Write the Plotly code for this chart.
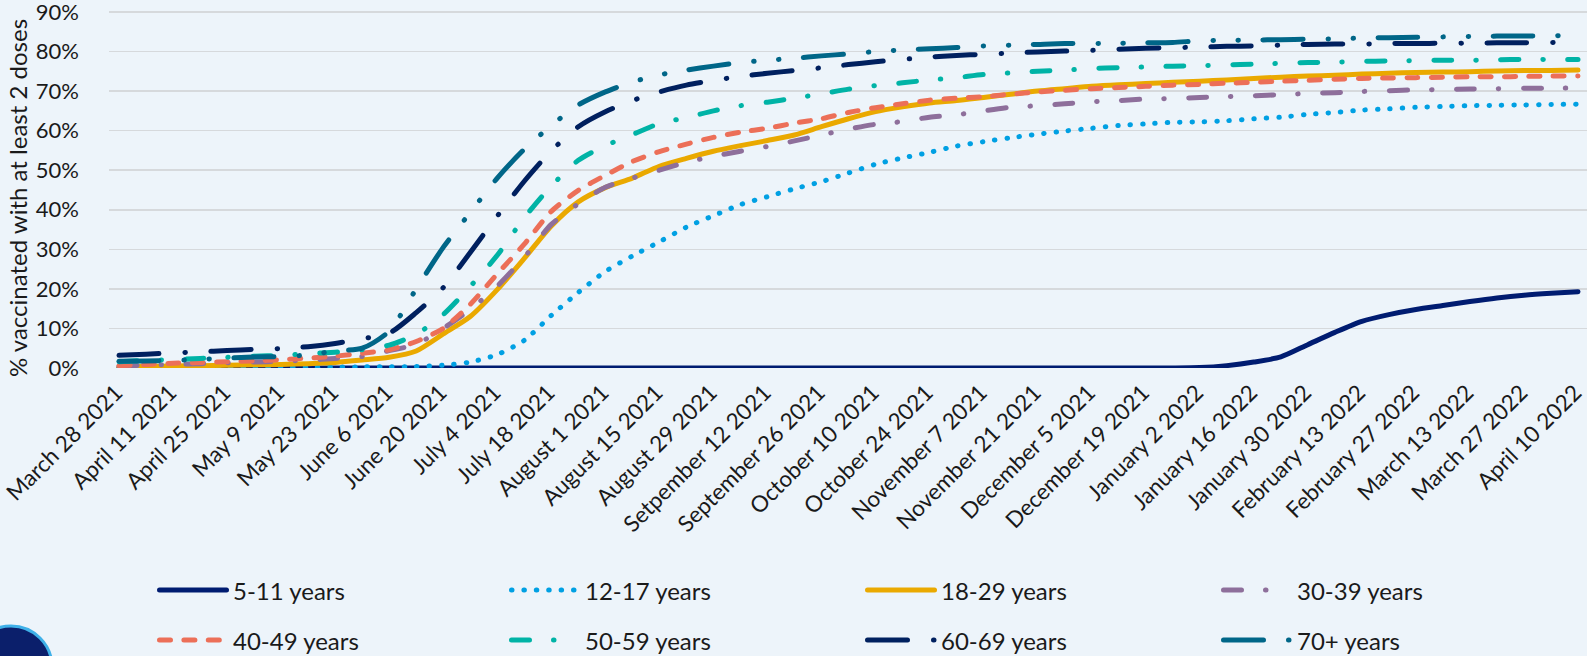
import plotly.graph_objects as go
import pandas as pd

# ---------------- data ----------------
first_week = "2021-03-28"
n_weeks = 55
weeks = pd.date_range(first_week, periods=n_weeks, freq="7D")

tick_labels = [
    "March 28 2021", "April 11 2021", "April 25 2021", "May 9 2021", "May 23 2021",
    "June 6 2021", "June 20 2021", "July 4 2021", "July 18 2021", "August 1 2021",
    "August 15 2021", "August 29 2021", "Setpember 12 2021", "September 26 2021",
    "October 10 2021", "October 24 2021", "November 7 2021", "November 21 2021",
    "December 5 2021", "December 19 2021", "January 2 2022", "January 16 2022",
    "January 30 2022", "February 13 2022", "February 27 2022", "March 13 2022",
    "March 27 2022", "April 10 2022",
]

v_5_11 = [0] * 40 + [0.1, 0.6, 1.5, 2.8, 5.9, 9.0, 11.8, 13.5, 14.8, 15.8, 16.8, 17.7, 18.4, 18.9, 19.3]
v_12_17 = [0.0, 0.0, 0.1, 0.1, 0.1, 0.1, 0.2, 0.2, 0.2, 0.3, 0.3, 0.4, 0.7, 1.5, 3.4, 7.0, 13.3, 19.1,
           24.4, 28.3, 31.9, 35.6, 38.5, 41.3, 43.3, 45.3, 47.1, 49.3, 51.5, 53.1, 54.5, 56.1, 57.2,
           58.2, 59.1, 59.9, 60.6, 61.3, 61.7, 62.1, 62.2, 62.5, 63.0, 63.4, 64.1, 64.6, 65.2, 65.5,
           65.9, 66.1, 66.3, 66.4, 66.5, 66.6, 66.7]
v_18_29 = [0.3, 0.4, 0.5, 0.6, 0.7, 0.8, 0.9, 1.1, 1.4, 2.0, 2.7, 4.3, 8.6, 13.0, 19.8, 27.7, 35.9, 42.0,
           45.6, 48.0, 51.0, 53.0, 54.8, 56.2, 57.5, 58.9, 61.0, 63.0, 64.8, 66.0, 67.0, 67.6, 68.4,
           69.2, 70.0, 70.6, 71.2, 71.6, 71.9, 72.2, 72.5, 72.8, 73.2, 73.5, 73.8, 74.0, 74.3, 74.5,
           74.7, 74.8, 74.9, 75.1, 75.2, 75.2, 75.3]
v_30_39 = [0.5, 0.7, 0.9, 1.1, 1.3, 1.5, 1.7, 2.0, 2.4, 2.9, 4.4, 6.0, 10.0, 14.8, 20.7, 28.0, 36.3, 41.5,
           45.7, 48.0, 50.0, 52.0, 53.5, 54.8, 56.0, 57.4, 58.9, 60.4, 61.6, 62.3, 63.4, 64.0, 65.0,
           65.9, 66.3, 66.8, 67.3, 67.6, 68.0, 68.1, 68.4, 68.6, 68.8, 69.1, 69.4, 69.6, 69.9, 70.1,
           70.3, 70.4, 70.5, 70.6, 70.7, 70.7, 70.8]
v_40_49 = [0.6, 0.9, 1.2, 1.4, 1.6, 1.8, 2.1, 2.5, 3.0, 3.7, 4.6, 6.7, 10.0, 16.1, 23.8, 31.3, 39.6, 44.9,
           48.7, 52.2, 54.7, 56.6, 58.3, 59.6, 60.6, 61.9, 63.0, 64.6, 65.8, 66.8, 67.7, 68.2, 68.6,
           69.2, 69.8, 70.2, 70.6, 70.9, 71.2, 71.5, 71.7, 72.0, 72.2, 72.5, 72.7, 73.0, 73.2, 73.3,
           73.4, 73.5, 73.6, 73.6, 73.7, 73.8, 73.8]
v_50_59 = [1.6, 1.9, 2.1, 2.4, 2.7, 3.0, 3.2, 3.6, 4.0, 4.6, 5.8, 8.5, 13.5, 20.6, 28.5, 38.0, 46.0, 52.5,
           56.2, 59.0, 61.8, 63.3, 65.0, 66.3, 67.2, 68.2, 69.3, 70.5, 71.4, 72.1, 72.8, 73.4, 74.2,
           74.6, 75.0, 75.3, 75.7, 75.9, 76.1, 76.3, 76.4, 76.6, 76.8, 77.0, 77.2, 77.3, 77.5, 77.6,
           77.7, 77.8, 77.8, 77.9, 78.0, 78.0, 78.0]
v_60_69 = [3.2, 3.5, 3.8, 4.1, 4.4, 4.7, 4.9, 5.4, 6.2, 7.4, 8.8, 14.0, 20.3, 29.2, 38.4, 47.2, 54.9, 61.0,
           64.8, 67.6, 69.8, 71.5, 72.7, 73.7, 74.5, 75.2, 75.9, 76.7, 77.4, 78.0, 78.6, 79.0, 79.3,
           79.6, 79.9, 80.1, 80.3, 80.6, 80.8, 81.0, 81.1, 81.3, 81.4, 81.6, 81.8, 81.9, 81.9, 82.0,
           82.0, 82.1, 82.1, 82.2, 82.2, 82.3, 82.3]
v_70_plus = [1.7, 1.8, 1.9, 2.2, 2.5, 2.8, 2.9, 3.3, 4.3, 5.0, 9.3, 20.0, 30.5, 39.3, 48.0, 55.3, 61.3, 66.5,
             69.8, 72.3, 74.1, 75.3, 76.3, 77.2, 77.8, 78.3, 78.9, 79.4, 80.0, 80.4, 80.7, 81.0, 81.4,
             81.6, 81.8, 82.0, 82.0, 82.1, 82.2, 82.3, 82.7, 82.8, 82.9, 83.0, 83.1, 83.2, 83.4, 83.5,
             83.6, 83.7, 83.8, 83.9, 83.9, 84.0, 84.0]

series_names = ["5-11 years", "12-17 years", "18-29 years", "30-39 years",
                "40-49 years", "50-59 years", "60-69 years", "70+ years"]
series_values = [v_5_11, v_12_17, v_18_29, v_30_39, v_40_49, v_50_59, v_60_69, v_70_plus]

# ---------------- styles ----------------
colors = ["#001C71", "#00A0E3", "#EAA900", "#8E6F9B", "#EC6F58", "#00B3A6", "#00205F", "#006688"]
dashes = [
    "solid",
    "0.5px,11.9px",
    "solid",
    "18px,24px,0.5px,24.5px",
    "11px,13.4px",
    "18px,24px,0.5px,24.5px",
    "40px,26px,0.5px,25.5px",
    "40px,25px,0.5px,24.5px,0.5px,24.5px",
]
LW = 5
FONT = "Lato"
TXT = "#1A1A1A"
BG = "#EDF4FA"

W, H = 1587, 656
ML, MR, MT, MB = 109, 0, 8, 288
PW, PH = W - ML - MR, H - MT - MB
Y_TOP = 91


def px_x(px):
    return (px - ML) / PW


def px_y(py):
    return (H - MB - py) / PH


fig = go.Figure()
for name, vals, col, dsh in zip(series_names, series_values, colors, dashes):
    fig.add_trace(go.Scatter(
        x=weeks, y=vals, name=name, mode="lines",
        line=dict(color=col, width=LW, dash=dsh, shape="spline", smoothing=0.7),
        showlegend=False, hoverinfo="skip",
    ))

step_px = (1578 - 119) / (n_weeks - 1)
pad_left_days = (119 - ML) / step_px * 7
pad_right_days = (W - MR - 1578) / step_px * 7
x_range = [weeks[0] - pd.Timedelta(days=pad_left_days), weeks[-1] + pd.Timedelta(days=pad_right_days)]

fig.update_layout(
    width=W, height=H,
    margin=dict(l=ML, r=MR, t=MT, b=MB, pad=0, autoexpand=False),
    paper_bgcolor=BG, plot_bgcolor=BG,
    font=dict(family=FONT, color=TXT),
    xaxis=dict(
        range=x_range, tickmode="array", tickvals=list(weeks[::2]), ticktext=tick_labels,
        tickangle=-45, tickfont=dict(size=22.5, family=FONT, color=TXT),
        showgrid=False, zeroline=False, showline=False, ticks="",
        automargin=False, ticklabeloverflow="allow",
        ticklabelstandoff=6, ticklabelshift=-3,
    ),
    yaxis=dict(
        range=[0, Y_TOP], tickmode="array", tickvals=list(range(0, 91, 10)),
        ticktext=[f"{v}%" for v in range(0, 91, 10)],
        tickfont=dict(size=22, family=FONT, color=TXT),
        showgrid=True, gridcolor="#D6D9DC", gridwidth=1.5,
        zeroline=False, showline=False, ticks="", ticklabelstandoff=29,
        automargin=False, ticklabeloverflow="allow",
    ),
)

annotations = [dict(
    text="% vaccinated with at least 2 doses", xref="paper", yref="paper",
    x=px_x(17), y=px_y(198), textangle=-90, showarrow=False,
    font=dict(size=24, family=FONT, color=TXT), xanchor="center", yanchor="middle",
)]
shapes = []

col_starts = [157, 509, 865, 1221]
row_ys = [590, 640]
sym_len = 71
for i, (name, col, dsh) in enumerate(zip(series_names, colors, dashes)):
    r, c = divmod(i, 4)
    x0 = col_starts[c]
    y = row_ys[r]
    shapes.append(dict(
        type="line", xref="paper", yref="paper",
        x0=px_x(x0 + 2.5), x1=px_x(x0 + sym_len - 1.5), y0=px_y(y), y1=px_y(y),
        line=dict(color=col, width=LW, dash=dsh),
    ))
    annotations.append(dict(
        text=name, xref="paper", yref="paper", x=px_x(x0 + 74), y=px_y(y),
        xanchor="left", yanchor="middle", showarrow=False,
        font=dict(size=24, family=FONT, color=TXT),
    ))

shapes.append(dict(
    type="circle", xref="paper", yref="paper",
    x0=px_x(-30), x1=px_x(52), y0=px_y(708), y1=px_y(626),
    fillcolor="#0B1F6B", line=dict(color="#3FB0E8", width=3), layer="below",
))

fig.update_layout(annotations=annotations, shapes=shapes)

css_js = (
    "var s=document.createElement('style');"
    "s.innerHTML='html,body{margin:0;padding:0;overflow:hidden;background:" + BG + ";}"
    " .js-line, .shapelayer path{stroke-linecap:round !important;}';"
    "document.head.appendChild(s);"
)
fig.write_html("out.html", post_script=css_js, config={"displayModeBar": False, "staticPlot": True})
